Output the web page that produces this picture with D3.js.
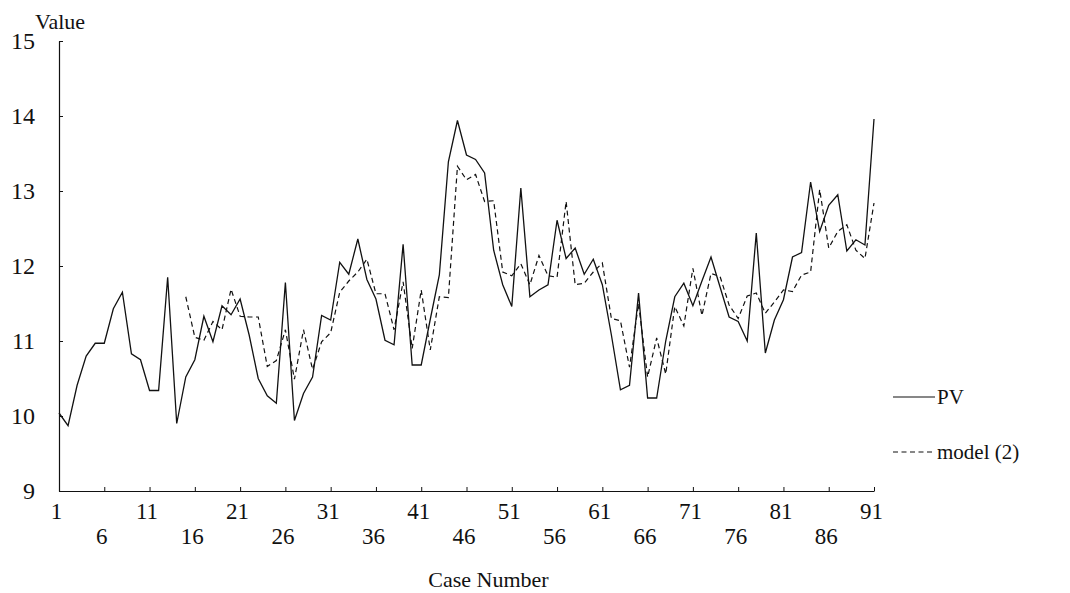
<!DOCTYPE html>
<html>
<head>
<meta charset="utf-8">
<script src="https://cdn.jsdelivr.net/npm/d3@7/dist/d3.min.js"></script>
<style>
  body { margin: 0; background: #fff; }
  svg text { font-family: "Liberation Serif", "Times New Roman", serif; fill: #111; }
</style>
</head>
<body>
<div id="chart"></div>
<script>
// PV, case 1..91
const pv = [
  10.04, 9.87, 10.41, 10.80, 10.97, 10.97, 11.43, 11.65, 10.83, 10.75,
  10.34, 10.34, 11.85, 9.90, 10.52, 10.75, 11.33, 10.99, 11.47, 11.35,
  11.56, 11.08, 10.50, 10.27, 10.17, 11.78, 9.94, 10.30, 10.52, 11.34,
  11.28, 12.05, 11.89, 12.36, 11.82, 11.56, 11.01, 10.95, 12.29, 10.68,
  10.68, 11.29, 11.88, 13.39, 13.94, 13.48, 13.42, 13.24, 12.21, 11.75,
  11.46, 13.04, 11.59, 11.68, 11.75, 12.61, 12.10, 12.24, 11.89, 12.09,
  11.75, 11.08, 10.35, 10.41, 11.64, 10.24, 10.24, 11.00, 11.59, 11.77,
  11.47, 11.80, 12.12, 11.72, 11.32, 11.26, 11.00, 12.44, 10.84, 11.28,
  11.55, 12.12, 12.18, 13.12, 12.46, 12.81, 12.95, 12.20, 12.35, 12.28,
  13.96
];

// model (2) starts at case 15
const modelFirstCase = 15;
const model2 = [
  11.59, 11.05, 11.01, 11.26, 11.15, 11.69, 11.33, 11.32, 11.32, 10.66,
  10.74, 11.15, 10.49, 11.15, 10.62, 10.99, 11.11, 11.65, 11.80, 11.92,
  12.09, 11.63, 11.63, 11.15, 11.79, 10.90, 11.68, 10.88, 11.59, 11.58,
  13.33, 13.15, 13.22, 12.86, 12.87, 11.92, 11.87, 12.03, 11.75, 12.14,
  11.87, 11.85, 12.86, 11.75, 11.77, 11.92, 12.04, 11.30, 11.27, 10.65,
  11.50, 10.52, 11.04, 10.56, 11.46, 11.20, 11.97, 11.34, 11.90, 11.86,
  11.48, 11.30, 11.60, 11.64, 11.37, 11.52, 11.68, 11.66, 11.88, 11.92,
  13.02, 12.24, 12.46, 12.55, 12.21, 12.10, 12.84
];

const yTicks = [9, 10, 11, 12, 13, 14, 15];
const xTicks = [1, 6, 11, 16, 21, 26, 31, 36, 41, 46, 51, 56, 61, 66, 71, 76, 81, 86, 91];
const seriesNames = ["PV", "model (2)"];

const width = 1070, height = 593;
const margin = { t: 41, r: 196, b: 102, l: 59 };
const serif = '"Liberation Serif", "Times New Roman", serif';

const svg = d3.select('#chart').append('svg')
  .attr('width', width)
  .attr('height', height);

const scaleX = d3.scaleLinear()
  .domain([1, 91])
  .range([margin.l, width - margin.r]);

const scaleY = d3.scaleLinear()
  .domain([9, 15])
  .range([height - margin.b, margin.t]);

const pvData = pv.map((v, i) => ({ c: i + 1, v: v }));
const modelData = model2.map((v, i) => ({ c: i + modelFirstCase, v: v }));

// axes
const axisX = d3.axisBottom(scaleX)
  .tickValues(xTicks)
  .tickSize(-4)
  .tickSizeOuter(0)
  .tickPadding(0)
  .tickFormat(d3.format('d'));

const axisY = d3.axisLeft(scaleY)
  .tickValues(yTicks)
  .tickSize(-4)
  .tickSizeOuter(0)
  .tickPadding(24)
  .tickFormat(d3.format('d'));

const gx = svg.append('g')
  .attr('class', 'axis axis-x')
  .attr('transform', `translate(0,${scaleY(9)})`)
  .call(axisX)
  .attr('font-family', serif);
gx.select('.domain').attr('stroke', '#111').attr('stroke-width', 1.2);
gx.selectAll('.tick line').attr('stroke', '#111');
gx.selectAll('.tick text')
  .attr('font-size', 23)
  .attr('dx', -3)
  .attr('y', (d, i) => i % 2 === 0 ? 12 : 37)
  .attr('dy', '0.71em');

const gy = svg.append('g')
  .attr('class', 'axis axis-y')
  .attr('transform', `translate(${scaleX(1)},0)`)
  .call(axisY)
  .attr('font-family', serif);
gy.select('.domain').attr('stroke', '#111').attr('stroke-width', 1.2);
gy.selectAll('.tick line').attr('stroke', '#111');
gy.selectAll('.tick text')
  .attr('font-size', 24);

svg.append('text')
  .attr('x', 35)
  .attr('y', 29)
  .attr('font-size', 22)
  .text('Value');

svg.append('text')
  .attr('x', (scaleX(1) + scaleX(91)) / 2 + 22)
  .attr('y', 587)
  .attr('text-anchor', 'middle')
  .attr('font-size', 22)
  .text('Case Number');

// lines
const line = d3.line()
  .x(d => scaleX(d.c))
  .y(d => scaleY(d.v));

svg.append('path')
  .datum(pvData)
  .attr('fill', 'none')
  .attr('stroke', '#111')
  .attr('stroke-width', 1.3)
  .attr('d', line);

svg.append('path')
  .datum(modelData)
  .attr('fill', 'none')
  .attr('stroke', '#111')
  .attr('stroke-width', 1.2)
  .attr('stroke-dasharray', '5,3.5')
  .attr('d', line);

// legend
const legend = svg.append('g').attr('class', 'legend');
const legendY = [397, 452];
const dashes = [null, '5,3.5'];
seriesNames.forEach((name, i) => {
  legend.append('line')
    .attr('x1', 893).attr('x2', 935)
    .attr('y1', legendY[i]).attr('y2', legendY[i])
    .attr('stroke', '#111')
    .attr('stroke-width', 1.2)
    .attr('stroke-dasharray', dashes[i]);
  legend.append('text')
    .attr('x', 937)
    .attr('y', legendY[i] + 7)
    .attr('font-size', 21)
    .text(name);
});
</script>
</body>
</html>
